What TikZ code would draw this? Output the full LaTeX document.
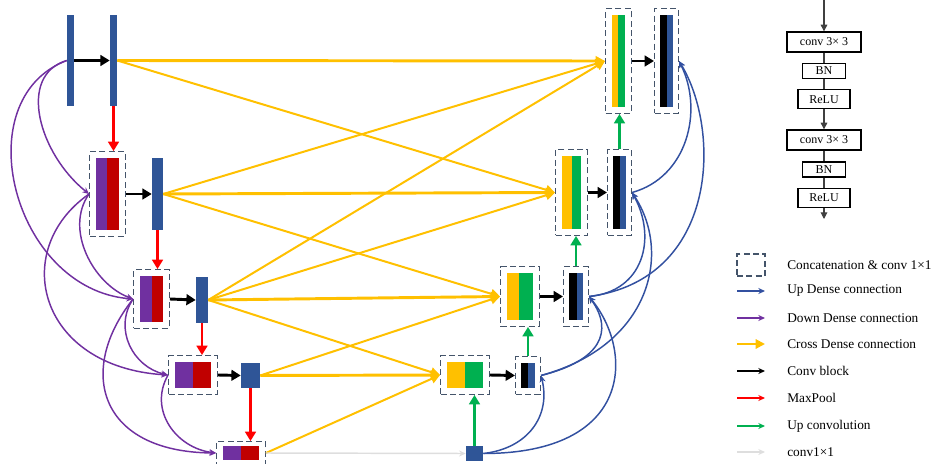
\documentclass[tikz,border=0pt]{standalone}
\usepackage{fontspec}
\setmainfont{Liberation Serif}
\usetikzlibrary{arrows.meta, positioning, fit}

\definecolor{barblue}{RGB}{47,85,151}
\definecolor{upblue}{RGB}{50,80,160}
\definecolor{dpurple}{RGB}{112,48,160}
\definecolor{dred}{RGB}{192,0,0}
\definecolor{cyellow}{RGB}{255,192,0}
\definecolor{cgreen}{RGB}{0,176,80}
\definecolor{boxgray}{RGB}{68,84,106}
\definecolor{lgray}{RGB}{222,222,222}

\begin{document}
\begin{tikzpicture}[x=0.75pt, y=-0.75pt,
    blk/.style={inner sep=0pt, draw=none, fill=#1},
    cat/.style={draw=boxgray, line width=1pt, dash pattern=on 4.5pt off 2.5pt,
      inner xsep=4.5pt, inner ysep=4.5pt},
    cbx/.style={cat, inner xsep=3.8pt},
    convarr/.style={-{Triangle[length=7pt, width=8pt]}, line width=2.2pt, black},
    pool/.style={-{Triangle[length=7pt, width=8pt]}, line width=2.2pt, red},
    upconv/.style={-{Triangle[length=7pt, width=8pt]}, line width=2.2pt, cgreen},
    cross/.style={-{Triangle[length=7pt, width=7pt]}, line width=1.5pt, cyellow},
    crossh/.style={cross, line width=2.2pt},
    down/.style={-{Stealth[length=5pt, width=4.5pt]}, line width=1.1pt, dpurple},
    updense/.style={-{Stealth[length=5pt, width=4.5pt]}, line width=1.1pt, upblue},
    onex/.style={-{Stealth[length=5pt, width=4.5pt]}, line width=1.1pt, lgray},
    cb/.style={draw, line width=1pt, inner sep=0pt, font=\fontsize{9}{10}\selectfont},
    cbarr/.style={-{Triangle[length=5pt, width=5pt]}, line width=0.8pt, black!75},
    cbline/.style={line width=0.8pt, black!75},
    lgtext/.style={inner sep=0pt, anchor=west, font=\fontsize{10}{12}\selectfont}
  ]
    \useasboundingbox (0,0) rectangle (936,464);

    % encoder
    \node[blk=barblue, fit={(67,15) (74,106)}] (A) {};
    \node[blk=barblue, fit={(110,15) (117,106)}] (B) {};
    \node[blk=dpurple, fit={(96,158) (107,230)}] (l1p) {};
    \node[blk=dred, fit={(107,158) (119,230)}] (l1r) {};
    \node[cat, fit=(l1p) (l1r)] (l1) {};
    \node[blk=barblue, fit={(152,158) (163,230)}] (e1) {};
    \node[blk=dpurple, fit={(140,276) (152,322)}] (l2p) {};
    \node[blk=dred, fit={(152,276) (163,322)}] (l2r) {};
    \node[cat, fit=(l2p) (l2r)] (l2) {};
    \node[blk=barblue, fit={(196,277) (208,323)}] (e2) {};
    \node[blk=dpurple, fit={(175,362) (193,388)}] (l3p) {};
    \node[blk=dred, fit={(193,362) (211,388)}] (l3r) {};
    \node[cat, fit=(l3p) (l3r)] (l3) {};
    \node[blk=barblue, fit={(241,363) (260,388)}] (e3) {};
    \node[blk=dpurple, fit={(223,446) (241,460)}] (l4p) {};
    \node[blk=dred, fit={(241,446) (259,460)}] (l4r) {};
    \node[cat, inner ysep=3pt, fit=(l4p) (l4r)] (l4) {};
    \node[blk=barblue, fit={(466,446) (483,461)}] (sq) {};

    % decoder
    \node[blk=cyellow, fit={(447,362) (465,388)}] (d3y) {};
    \node[blk=cgreen, fit={(465,362) (483,388)}] (d3g) {};
    \node[cat, fit=(d3y) (d3g)] (d3cat) {};
    \node[blk=black, fit={(521,363) (528,388)}] (d3k) {};
    \node[blk=barblue, fit={(528,363) (535,388)}] (d3b) {};
    \node[cbx, fit=(d3k) (d3b)] (d3c) {};
    \node[blk=cyellow, fit={(507,273) (519,320)}] (d2y) {};
    \node[blk=cgreen, fit={(519,273) (533,320)}] (d2g) {};
    \node[cat, fit=(d2y) (d2g)] (d2cat) {};
    \node[blk=black, fit={(569,273) (577,320)}] (d2k) {};
    \node[blk=barblue, fit={(577,273) (583,320)}] (d2b) {};
    \node[cbx, fit=(d2k) (d2b)] (d2c) {};
    \node[blk=cyellow, fit={(562,156) (572,229)}] (d1y) {};
    \node[blk=cgreen, fit={(572,156) (581,229)}] (d1g) {};
    \node[cat, fit=(d1y) (d1g)] (d1cat) {};
    \node[blk=black, fit={(613,156) (620,229)}] (d1k) {};
    \node[blk=barblue, fit={(620,156) (626,229)}] (d1b) {};
    \node[cbx, fit=(d1k) (d1b)] (d1c) {};
    \node[blk=cyellow, fit={(612,15) (618,107)}] (d0y) {};
    \node[blk=cgreen, fit={(618,15) (625,107)}] (d0g) {};
    \node[cat, fit=(d0y) (d0g)] (d0cat) {};
    \node[blk=black, fit={(660,15) (667,107)}] (d0k) {};
    \node[blk=barblue, fit={(667,15) (673,107)}] (d0b) {};
    \node[cbx, fit=(d0k) (d0b)] (d0c) {};

    % cross dense
    \draw[crossh] (B.east) -- (d0cat.west);
    \draw[cross] (B.east) -- (d1cat.west);
    \draw[cross] (e1.east) -- (d0cat.west);
    \draw[crossh] (e1.east) -- (d1cat.west);
    \draw[cross] (e1.east) -- (d2cat.west);
    \draw[cross] (e2.east) -- (d0cat.west);
    \draw[cross] (e2.east) -- (d1cat.west);
    \draw[crossh] (e2.east) -- (d2cat.west);
    \draw[cross] (e2.east) -- (d3cat.west);
    \draw[cross] (e3.east) -- (d2cat.west);
    \draw[crossh] (e3.east) -- (d3cat.west);
    \draw[cross] (l4.east) -- (d3cat.west);
    \draw[onex] (l4.east) -- (sq.west);

    % conv blocks and pooling
    \draw[convarr] (A.east) -- (B.west);
    \draw[convarr] (l1.east) -- (e1.west);
    \draw[convarr] (l2.east) -- (e2.west);
    \draw[convarr] (l3.east) -- (e3.west);
    \draw[convarr] (d3cat.east) -- (d3c.west);
    \draw[convarr] (d2cat.east) -- (d2c.west);
    \draw[convarr] (d1cat.east) -- (d1c.west);
    \draw[convarr] (d0cat.east) -- (d0c.west);
    \draw[pool] (B.south) -- (B.south |- l1.north);
    \draw[pool] (e1.south) -- (e1.south |- l2.north);
    \draw[pool] (e2.south) -- (e2.south |- l3.north);
    \draw[pool] (e3.south) -- (e3.south |- l4.north);
    \draw[upconv] (sq.north) -- (sq.north |- d3cat.south);
    \draw[upconv] (d3c.north) -- (d3c.north |- d2cat.south);
    \draw[upconv] (d2c.north) -- (d2c.north |- d1cat.south);
    \draw[upconv] (d1c.north) -- (d1c.north |- d0cat.south);

    % down dense
    \draw[down] (A.west) .. controls +(-50,15) and +(-50,-40) .. (l1.west);
    \draw[down] (A.west) .. controls +(-102,39) and +(-120,-10) .. (l2.west);
    \draw[down] (l1.west) .. controls +(-25,35) and +(-40,-15) .. (l2.west);
    \draw[down] (l1.west) .. controls +(-80,56) and +(-130,-8) .. (l3.west);
    \draw[down] (l2.west) .. controls +(-20,30) and +(-35,-8) .. (l3.west);
    \draw[down] (l2.west) .. controls +(-57,72) and +(-117,-1) .. (l4.west);
    \draw[down] (l3.west) .. controls +(-20,35) and +(-40,-5) .. (l4.west);

    % up dense
    \draw[updense] (sq.east) .. controls +(45,-5) and +(10,40) .. (d3c.east);
    \draw[updense] (sq.east) .. controls +(150,0) and +(45,55) .. (d2c.east);
    \draw[updense] (d3c.east) .. controls +(60,-15) and +(25,35) .. (d2c.east);
    \draw[updense] (d3c.east) .. controls +(110,-30) and +(40,60) .. (d1c.east);
    \draw[updense] (d2c.east) .. controls +(55,-5) and +(25,45) .. (d1c.east);
    \draw[updense] (d2c.east) .. controls +(130,-17) and +(42,69) .. (d0c.east);
    \draw[updense] (d1c.east) .. controls +(55,-15) and +(25,50) .. (d0c.east);

    % conv block detail
    \coordinate (cbin) at (824,0);
    \node[cb, minimum width=55.5pt, minimum height=15pt] (cv1) at (824,42) {conv 3× 3};
    \node[cb, below=7.5pt of cv1, minimum width=32pt, minimum height=11.25pt] (bn1) {BN};
    \node[cb, below=7.5pt of bn1, minimum width=39pt, minimum height=14.25pt] (re1) {ReLU};
    \node[cb, below=15pt of re1, minimum width=55.5pt, minimum height=15pt] (cv2) {conv 3× 3};
    \node[cb, below=8pt of cv2, minimum width=32pt, minimum height=11.25pt] (bn2) {BN};
    \node[cb, below=7.5pt of bn2, minimum width=39pt, minimum height=14.25pt] (re2) {ReLU};
    \coordinate (cbout) at (824,219);
    \draw[cbarr] (cbin) -- (cv1);
    \draw[cbline] (cv1) -- (bn1);
    \draw[cbline] (bn1) -- (re1);
    \draw[cbarr] (re1) -- (cv2);
    \draw[cbline] (cv2) -- (bn2);
    \draw[cbline] (bn2) -- (re2);
    \draw[cbarr] (re2) -- (cbout);

    % legend
    \node[cat, minimum width=21pt, minimum height=16.5pt] (lgcat) at (751,265) {};
    \node[lgtext] (t0) at (787,265) {Concatenation \& conv 1×1};
    \coordinate (k1a) at (737,291); \coordinate (k1b) at (765,291);
    \coordinate (k2a) at (737,318); \coordinate (k2b) at (765,318);
    \coordinate (k3a) at (737,344); \coordinate (k3b) at (765,344);
    \coordinate (k4a) at (737,371); \coordinate (k4b) at (765,371);
    \coordinate (k5a) at (737,398); \coordinate (k5b) at (765,398);
    \coordinate (k6a) at (737,426); \coordinate (k6b) at (765,426);
    \coordinate (k7a) at (737,452); \coordinate (k7b) at (765,452);
    \draw[updense, line width=1.5pt] (k1a) -- (k1b);
    \draw[down, line width=1.5pt] (k2a) -- (k2b);
    \draw[cross] (k3a) -- (k3b);
    \draw[black, line width=1.5pt, -{Stealth[length=5pt, width=4.5pt]}] (k4a) -- (k4b);
    \draw[red, line width=1.5pt, -{Stealth[length=5pt, width=4.5pt]}] (k5a) -- (k5b);
    \draw[cgreen, line width=1.5pt, -{Stealth[length=5pt, width=4.5pt]}] (k6a) -- (k6b);
    \draw[onex, line width=1.5pt] (k7a) -- (k7b);
    \node[lgtext, right=16.5pt of k1b] (t1) {Up Dense connection};
    \node[lgtext, right=16.5pt of k2b] (t2) {Down Dense connection};
    \node[lgtext, right=16.5pt of k3b] (t3) {Cross Dense connection};
    \node[lgtext, right=16.5pt of k4b] (t4) {Conv block};
    \node[lgtext, right=16.5pt of k5b] (t5) {MaxPool};
    \node[lgtext, right=16.5pt of k6b] (t6) {Up convolution};
    \node[lgtext, right=16.5pt of k7b] (t7) {conv1×1};
\end{tikzpicture}
\end{document}
